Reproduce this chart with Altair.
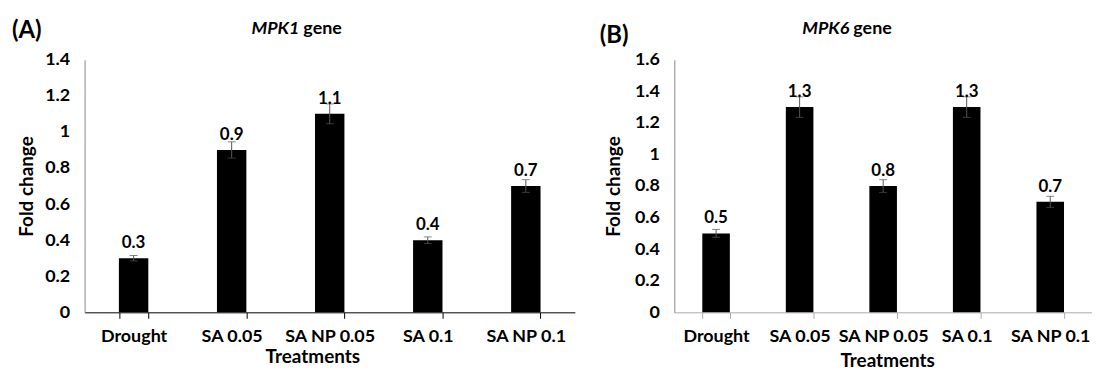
import altair as alt
import pandas as pd

treatments = ["Drought", "SA 0.05", "SA NP 0.05", "SA 0.1", "SA NP 0.1"]
mpk1_fold = [0.3, 0.9, 1.1, 0.4, 0.7]
mpk1_err = [0.015, 0.045, 0.055, 0.018, 0.035]
mpk1_labels = ["0.3", "0.9", "1.1", "0.4", "0.7"]
mpk6_fold = [0.5, 1.3, 0.8, 1.3, 0.7]
mpk6_err = [0.025, 0.065, 0.04, 0.065, 0.035]
mpk6_labels = ["0.5", "1.3", "0.8", "1.3", "0.7"]
mpk1_ticks = [0, 0.2, 0.4, 0.6, 0.8, 1.0, 1.2, 1.4]
mpk6_ticks = [0, 0.2, 0.4, 0.6, 0.8, 1.0, 1.2, 1.4, 1.6]

FONT = "Lato"


def panel(vals, errs, labels, ticks, ymax, letter, gene, width, pad_inner,
          split_x, letter_x, letter_y, xdomain_color, xtitle_x, xtitle_y, ytitle_x):
    df = pd.DataFrame({
        "t": treatments,
        "v": vals,
        "lo": [v - e for v, e in zip(vals, errs)],
        "hi": [v + e for v, e in zip(vals, errs)],
        "lab": labels,
    })
    x_axis = alt.Axis(title="Treatments", orient="bottom", grid=False, labelAngle=0,
                      labelFont=FONT, labelFontSize=18, labelFontWeight="bold",
                      labelColor="black", labelPadding=9, tickBand="extent", tickSize=6,
                      tickColor=xdomain_color, domainColor=xdomain_color,
                      titleFont=FONT, titleFontSize=19, titleFontWeight="bold",
                      titleColor="black", titleX=xtitle_x, titleY=xtitle_y,
                      titleBaseline="middle")
    y_axis = alt.Axis(title="Fold change", orient="left", values=ticks, format="~g",
                      grid=False, ticks=False, domainColor="#888888", labelFont=FONT,
                      labelFontSize=18, labelFontWeight="bold", labelColor="black",
                      labelPadding=15, labelOverlap=False, labelFlush=False,
                      titleFont=FONT, titleFontSize=19,
                      titleFontWeight="bold", titleColor="black",
                      titleX=ytitle_x, titleBaseline="middle")
    y_scale = alt.Scale(domain=[0, ymax], nice=False)
    x = alt.X("t:N", sort=treatments,
              scale=alt.Scale(paddingInner=pad_inner, paddingOuter=pad_inner / 2),
              axis=x_axis)

    def Y(field):
        return alt.Y(field, scale=y_scale, axis=y_axis)

    base = alt.Chart(df).encode(x=x)
    bars = base.mark_bar(color="black").encode(y=Y("v:Q"))
    err = base.mark_rule(color="#555555", strokeWidth=1).encode(y=Y("lo:Q"), y2="hi:Q")
    cap_hi = base.mark_tick(color="#555555", thickness=1, size=8).encode(y=Y("hi:Q"))
    cap_lo = base.mark_tick(color="#555555", thickness=1, size=8).encode(y=Y("lo:Q"))
    txt = base.mark_text(font=FONT, fontSize=17, fontWeight="bold", color="black",
                         baseline="alphabetic", dy=-10).encode(y=Y("v:Q"), text="lab:N")
    ann = pd.DataFrame({"a": [0]})
    g1 = alt.Chart(ann).mark_text(font=FONT, fontSize=18, fontWeight="bold",
                                  fontStyle="italic", align="right", baseline="middle",
                                  color="black", text=gene).encode(
        x=alt.value(split_x), y=alt.value(-31))
    g2 = alt.Chart(ann).mark_text(font=FONT, fontSize=18, fontWeight="bold",
                                  align="left", baseline="middle", color="black",
                                  text="gene", dx=4).encode(
        x=alt.value(split_x), y=alt.value(-31))
    let = alt.Chart(ann).mark_text(font=FONT, fontSize=24, fontWeight="bold",
                                   align="left", baseline="middle", color="black",
                                   text=letter).encode(
        x=alt.value(letter_x), y=alt.value(letter_y))
    return alt.layer(bars, err, cap_hi, cap_lo, txt, g1, g2, let).properties(
        width=width, height=254)


pa = panel(mpk1_fold, mpk1_err, mpk1_labels, mpk1_ticks, 1.4, "(A)", "MPK1", 493, 0.7,
           216, -73, -29, "black", 229, 44, -58)
pb = panel(mpk6_fold, mpk6_err, mpk6_labels, mpk6_ticks, 1.6, "(B)", "MPK6", 420, 0.67,
           176, -75, -24, "#aaaaaa", 214, 48, -61)

chart = alt.hconcat(pa, pb, spacing=25).properties(
    padding={"left": 4, "top": 10, "right": 0, "bottom": 0}
).configure(
    background="white",
    view=alt.ViewConfig(stroke="transparent", strokeWidth=0, strokeOpacity=0),
    axis=alt.AxisConfig(grid=False),
    style={"cell": {"stroke": "transparent", "strokeWidth": 0}},
)

chart.save("out.html", embed_options={"renderer": "svg", "actions": False})
